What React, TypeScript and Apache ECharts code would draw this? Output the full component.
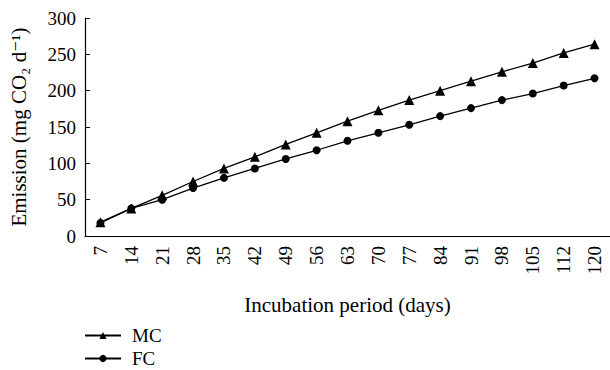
import React, { useEffect, useRef } from "react";
import * as echarts from "echarts";

const days = ["7", "14", "21", "28", "35", "42", "49", "56", "63", "70", "77", "84", "91", "98", "105", "112", "120"];
const mcValues = [19, 38, 56, 75, 93, 109, 126, 142, 158, 173, 187, 200, 213, 226, 238, 252, 264];
const fcValues = [18, 38, 50, 66, 80, 93, 106, 118, 131, 142, 153, 165, 176, 187, 196, 207, 217];

const FONT = "'Liberation Serif', 'DejaVu Serif', serif";

export default function App() {
  const ref = useRef<HTMLDivElement>(null);
  useEffect(() => {
    if (!ref.current) return;
    const chart = echarts.init(ref.current, undefined, { renderer: "svg" });
    const legendBase = {
      orient: "vertical",
      left: 84,
      itemWidth: 36,
      itemHeight: 9,
      itemGap: 0,
      padding: 0,
      textStyle: { fontFamily: FONT, fontSize: 19, lineHeight: 19, color: "#000", padding: [0, 0, 0, 6] },
    };
    chart.setOption({
      animation: false,
      textStyle: { fontFamily: FONT, color: "#000" },
      grid: { left: 82, right: -2, top: 18, bottom: 134, containLabel: false },
      legend: [
        { ...legendBase, top: 326, data: ["MC"] },
        { ...legendBase, top: 349, data: ["FC"] },
      ],
      xAxis: {
        type: "category",
        data: days,
        boundaryGap: true,
        name: "Incubation period (days)",
        nameLocation: "middle",
        nameGap: 58,
        nameTextStyle: { fontFamily: FONT, fontSize: 21, color: "#000" },
        axisLine: { lineStyle: { color: "#000", width: 1.2 } },
        axisTick: { inside: true, length: 5, lineStyle: { color: "#000" } },
        axisLabel: { rotate: 90, fontFamily: FONT, fontSize: 19, color: "#000", margin: 10, interval: 0 },
      },
      yAxis: {
        type: "value",
        min: 0,
        max: 300,
        interval: 50,
        name: "Emission (mg CO\u2082 d\u207B\u00B9)",
        nameLocation: "middle",
        nameGap: 56,
        nameTextStyle: { fontFamily: FONT, fontSize: 21, color: "#000" },
        axisLine: { show: true, lineStyle: { color: "#000", width: 1.2 } },
        axisTick: { show: true, inside: true, length: 5, lineStyle: { color: "#000" } },
        axisLabel: { fontFamily: FONT, fontSize: 19, color: "#000", margin: 9 },
        splitLine: { show: false },
      },
      series: [
        {
          name: "MC",
          type: "line",
          data: mcValues,
          symbol: "triangle",
          symbolSize: 10,
          itemStyle: { color: "#000" },
          lineStyle: { color: "#000", width: 1.3 },
        },
        {
          name: "FC",
          type: "line",
          data: fcValues,
          symbol: "circle",
          symbolSize: 8,
          itemStyle: { color: "#000" },
          lineStyle: { color: "#000", width: 1.3 },
        },
      ],
    });
    return () => chart.dispose();
  }, []);
  return <div ref={ref} style={{ width: 610, height: 370, position: "absolute", left: 0, top: 0, background: "#fff" }} />;
}
